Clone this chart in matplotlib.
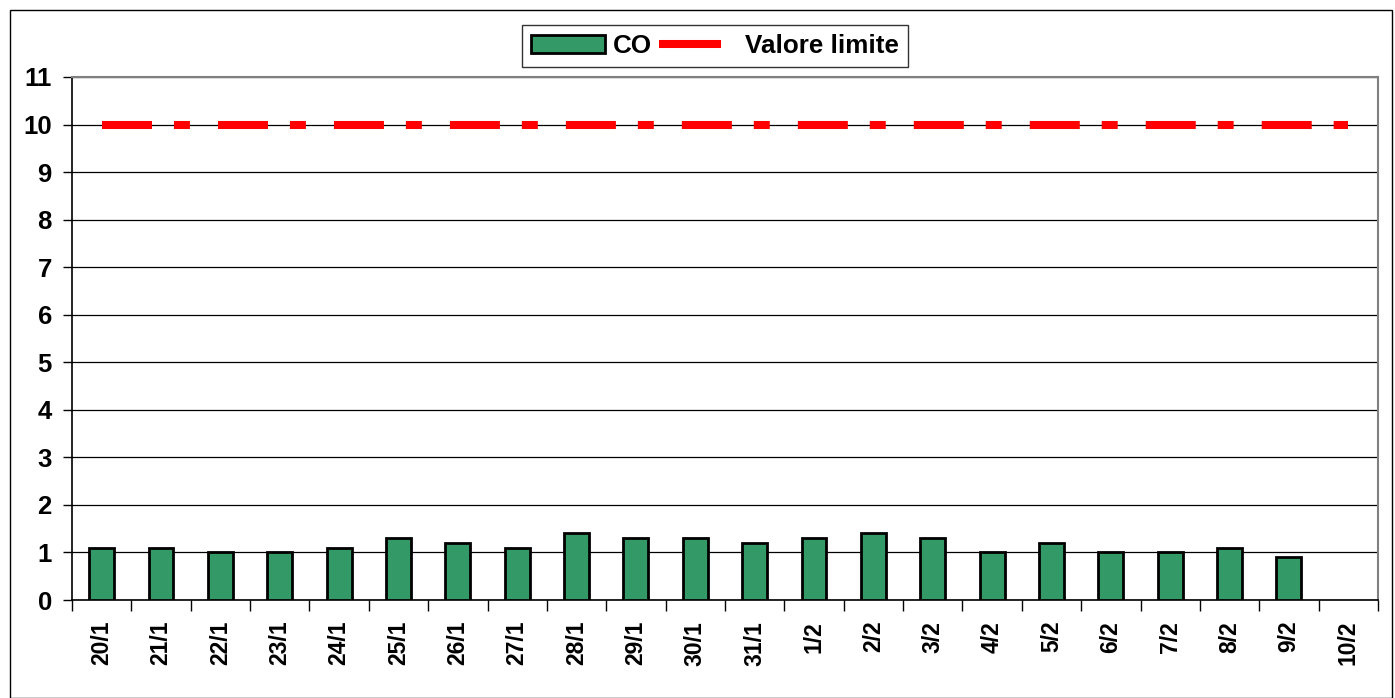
import numpy as np
import matplotlib
matplotlib.use("Agg")
from matplotlib import pyplot as plt
from matplotlib.patches import Rectangle, Patch
from matplotlib.lines import Line2D
from matplotlib.legend_handler import HandlerLine2D

# Data
days = ["20/1", "21/1", "22/1", "23/1", "24/1", "25/1", "26/1", "27/1", "28/1", "29/1", "30/1",
        "31/1", "1/2", "2/2", "3/2", "4/2", "5/2", "6/2", "7/2", "8/2", "9/2", "10/2"]
co = [1.1, 1.1, 1.0, 1.0, 1.1, 1.3, 1.2, 1.1, 1.4, 1.3, 1.3,
      1.2, 1.3, 1.4, 1.3, 1.0, 1.2, 1.0, 1.0, 1.1, 0.9, np.nan]
limit = [10] * len(days)

plt.rcParams['font.family'] = ['Liberation Sans', 'DejaVu Sans']
plt.rcParams['font.weight'] = 'bold'
plt.rcParams['lines.scale_dashes'] = False


class ShortLine(HandlerLine2D):
    # line handle drawn shorter than the handle box, like the original legend
    def create_artists(self, legend, orig_handle, xdescent, ydescent, width, height, fontsize, trans):
        return super().create_artists(legend, orig_handle, xdescent, ydescent,
                                      width * 0.72, height, fontsize, trans)


fig = plt.figure(figsize=(13.95, 6.98), dpi=100)
ax = fig.add_axes([0.0516, 0.1404, 0.9362, 0.7493])

x = np.arange(len(days))
ax.bar(x, co, width=0.42, color='#339966', edgecolor='black', linewidth=2, zorder=3)
ax.plot(x, limit, color='#ff0000', linewidth=5.8, dashes=(36, 15.8, 11.5, 20.2),
        dash_capstyle='butt', zorder=4)

ax.set_xlim(-0.5, len(days) - 0.5)
ax.set_ylim(0, 11)
ax.set_yticks(range(0, 12))
ax.yaxis.grid(True, color='black', linewidth=0.9, zorder=0)
ax.set_axisbelow(True)

ax.set_xticks(np.arange(-0.5, len(days), 1))
ax.set_xticklabels([])
ax.set_xticks(x, minor=True)
ax.set_xticklabels(days, minor=True, rotation=90, fontsize=16.5, fontweight='bold')
ax.tick_params(axis='x', which='major', length=8, width=1, direction='out')
ax.tick_params(axis='x', which='minor', length=0, pad=15)
ax.tick_params(axis='y', length=6.5, width=1, labelsize=18.5, pad=8)

for s in ['top', 'right']:
    ax.spines[s].set_color('#808080')
    ax.spines[s].set_linewidth(1.5)
for s in ['left', 'bottom']:
    ax.spines[s].set_color('black')
    ax.spines[s].set_linewidth(1.2)

h_co = Patch(facecolor='#339966', edgecolor='black', linewidth=2)
h_lim = Line2D([0, 1], [0, 0], color='#ff0000', linewidth=5.8)
leg = ax.legend([h_co, h_lim], ['CO', 'Valore limite'], loc='lower center',
                bbox_to_anchor=(0.4923, 1.019), borderaxespad=0, ncol=2, fontsize=18.7,
                frameon=True, fancybox=False, edgecolor='black', handlelength=2.85,
                columnspacing=0.45, handletextpad=0.3, borderpad=0.35,
                handler_map={Line2D: ShortLine()})
leg.get_frame().set_linewidth(1)

fig.patches.append(Rectangle((0.007, 0.0), 0.991, 0.986, transform=fig.transFigure,
                             fill=False, edgecolor='black', linewidth=1))

fig.savefig('out.png', dpi=100)
